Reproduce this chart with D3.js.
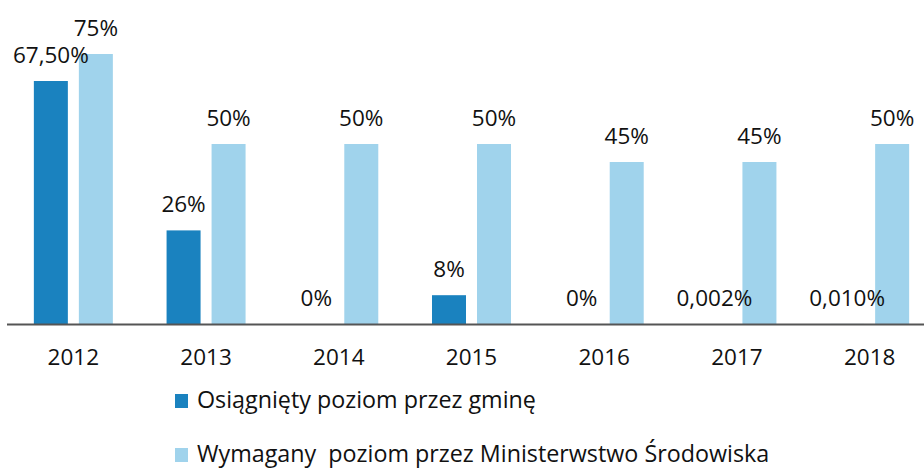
<!DOCTYPE html>
<html><head><meta charset="utf-8">
<script src="https://cdn.jsdelivr.net/npm/d3@7"></script>
<style>
html,body{margin:0;padding:0;background:#fff;}
text{font-family:"Open Sans",sans-serif;fill:#111;}
</style></head>
<body><svg id="c" width="924" height="473"></svg>
<script>
const years = ["2012","2013","2014","2015","2016","2017","2018"];
const achieved = [67.5, 26, 0, 8, 0, 0.002, 0.010];
const achievedLabels = ["67,50%","26%","0%","8%","0%","0,002%","0,010%"];
const required = [75, 50, 50, 50, 45, 45, 50];
const requiredLabels = ["75%","50%","50%","50%","45%","45%","50%"];
const seriesNames = ["Osiągnięty poziom przez gminę","Wymagany  poziom przez Ministerwstwo Środowiska"];
const colors = ["#1a82bf","#a0d3ec"];

const svg = d3.select("#c");
const baseY = 324;
const x = d3.scaleBand().domain(years).range([7, 936]).paddingInner(0).paddingOuter(0);
const y = d3.scaleLinear().domain([0, 75]).range([baseY, 54]);
const bw = 34, gap = 11;

const g = svg.append("g");
years.forEach((yr, i) => {
  const cx = x(yr) + x.bandwidth()/2;
  const vals = [achieved[i], required[i]];
  vals.forEach((v, s) => {
    const bx = s === 0 ? cx - gap/2 - bw : cx + gap/2;
    g.append("rect").attr("x", bx).attr("y", y(v)).attr("width", bw)
      .attr("height", baseY - y(v)).attr("fill", colors[s]);
  });
});
// axis line
svg.append("line").attr("x1", 7).attr("x2", 924).attr("y1", baseY+0.5).attr("y2", baseY+0.5)
  .attr("stroke", "#555").attr("stroke-width", 2);
// labels
years.forEach((yr, i) => {
  const cx = x(yr) + x.bandwidth()/2;
  const vals = [achieved[i], required[i]];
  const labs = [achievedLabels[i], requiredLabels[i]];
  vals.forEach((v, s) => {
    const lx = s === 0 ? cx - gap/2 - bw/2 : cx + gap/2 + bw/2;
    svg.append("text").attr("x", lx).attr("y", y(v) - 18).attr("text-anchor", "middle")
      .attr("font-size", 22.5).text(labs[s]);
  });
  svg.append("text").attr("x", cx).attr("y", 365).attr("text-anchor", "middle")
    .attr("font-size", 22.5).text(yr);
});
// legend
seriesNames.forEach((n, s) => {
  const ly = 408 + s*54;
  svg.append("rect").attr("x", 175).attr("y", ly - 14).attr("width", 13).attr("height", 14).attr("fill", colors[s]);
  svg.append("text").attr("x", 197).attr("y", ly).attr("font-size", 23.3)
    .style("white-space", "pre").text(n);
});
</script></body></html>
